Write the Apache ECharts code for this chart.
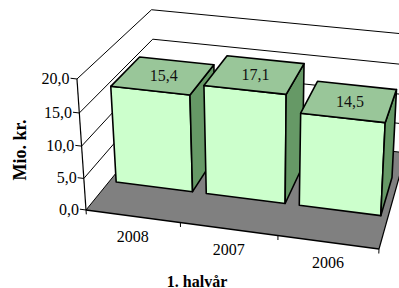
<!DOCTYPE html>
<html><head><meta charset="utf-8">
<script src="https://cdn.jsdelivr.net/npm/echarts@6/dist/echarts.min.js"></script>
<style>html,body{margin:0;padding:0;background:#fff}#c{width:399px;height:288px}</style>
</head><body><div id="c"></div>
<script>
// ---- data ----
const categories = ['2008', '2007', '2006'];
const values = [15.4, 17.1, 14.5];
const valueTicks = [0, 5, 10, 15, 20];
const yTitle = 'Mio. kr.';
const xTitle = '1. halvår';

// ---- 3D camera (projective matrix: u = category span, v = value span, w = depth) ----
const M = [
  [274.05, -12.8, 97.9, 86],
  [26.55, -134.9, -64.1, 210],
  [-0.05, -0.049, 0.178, 1]
];
function P(u, v, w) {
  const d = M[2][0]*u + M[2][1]*v + M[2][2]*w + M[2][3];
  return [(M[0][0]*u + M[0][1]*v + M[0][2]*w + M[0][3]) / d,
          (M[1][0]*u + M[1][1]*v + M[1][2]*w + M[1][3]) / d];
}
const BAR_FRAC = 0.85, W0 = 0.3, W1 = 0.7;
const FAM = 'Liberation Serif';
function txt(text, x, y, align, extra) {
  return Object.assign({ text: text, x: x, y: y, align: align, verticalAlign: 'middle',
    fontFamily: FAM, fontSize: 16, fontWeight: 'normal', fill: '#000' }, extra || {});
}
function fmt(v) { return v.toFixed(1).replace('.', ','); }
function nu(cs, px) { return (px - cs.x) / cs.width; }
function nv(cs, py) { return (cs.y + cs.height - py) / cs.height; }
function line(a, b, lw) {
  return { type: 'line', shape: { x1: a[0], y1: a[1], x2: b[0], y2: b[1] },
           style: { stroke: '#000', lineWidth: lw || 1 } };
}

function renderFrame(params, api) {
  const cs = params.coordSys;
  const ch = [];
  ch.push({ type: 'polygon', shape: { points: [P(0,0,0), P(1,0,0), P(1,0,1), P(0,0,1)] },
            style: { fill: '#808080', stroke: null } });
  valueTicks.forEach(function (t) {
    const v = nv(cs, api.coord([0, t])[1]);
    ch.push({ type: 'polyline', shape: { points: [P(0,v,0), P(0,v,1), P(1,v,1)] },
              style: { stroke: '#000', lineWidth: 1, fill: null } });
    const q = P(-0.022, v, 0);
    ch.push(line(q, P(0, v, 0), 1));
    ch.push({ type: 'text', style: txt(fmt(t), q[0] - 1, q[1], 'right') });
  });
  ch.push(line(P(1,0,0), P(1,0,1), 1.2));
  ch.push(line(P(0,0,0), P(1,0,0), 1.3));
  ch.push(line(P(0,0,0), P(0,1,0), 1.2));
  const bw = api.size([1, 0])[0];
  for (let i = 0; i <= categories.length; i++) {
    const px = api.coord([Math.min(i, categories.length - 1), 0])[0] + (i === categories.length ? bw / 2 : -bw / 2);
    const u = nu(cs, px);
    ch.push(line(P(u, 0, 0), P(u, -0.035, 0), 1));
  }
  categories.forEach(function (c, i) {
    const u = nu(cs, api.coord([i, 0])[0]);
    const q = P(u, 0, 0);
    ch.push({ type: 'text', style: txt(c, q[0], q[1] + 20, 'center') });
  });
  return { type: 'group', children: ch };
}

function renderBar(params, api) {
  const cs = params.coordSys;
  const i = api.value(0), val = api.value(1);
  const top = api.coord([i, val]), base = api.coord([i, 0]);
  const hw = api.size([1, 0])[0] * BAR_FRAC / 2 / cs.width;
  const uc = nu(cs, top[0]);
  const u0 = uc - hw, u1 = uc + hw;
  const v0 = nv(cs, base[1]), v1 = nv(cs, top[1]);
  const st = { stroke: '#000', lineWidth: 1.6, lineJoin: 'round' };
  const lab = P(uc, v1, (W0 + W1) / 2);
  return { type: 'group', children: [
    { type: 'polygon', shape: { points: [P(u0,v0,W0), P(u1,v0,W0), P(u1,v1,W0), P(u0,v1,W0)] },
      style: Object.assign({ fill: '#CCFFCC' }, st) },
    { type: 'polygon', shape: { points: [P(u1,v0,W0), P(u1,v0,W1), P(u1,v1,W1), P(u1,v1,W0)] },
      style: Object.assign({ fill: '#669966' }, st) },
    { type: 'polygon', shape: { points: [P(u0,v1,W0), P(u1,v1,W0), P(u1,v1,W1), P(u0,v1,W1)] },
      style: Object.assign({ fill: '#99C699' }, st) },
    { type: 'text', style: txt(fmt(val), lab[0], lab[1], 'center', { fill: '#111' }) }
  ] };
}

const chart = echarts.init(document.getElementById('c'), null, { renderer: 'svg' });
chart.setOption({
  animation: false,
  backgroundColor: '#fff',
  grid: { left: 0, top: 0, width: 300, height: 300, show: false },
  xAxis: { type: 'category', data: categories, show: false },
  yAxis: { type: 'value', min: 0, max: 20, interval: 5, show: false },
  graphic: [
    { type: 'text', x: 20, y: 150, rotation: Math.PI / 2,
      style: txt(yTitle, 0, 0, 'center', { fontWeight: 'bold', fontSize: 18 }) },
    { type: 'text', x: 197, y: 281,
      style: txt(xTitle, 0, 0, 'center', { fontWeight: 'bold' }) }
  ],
  series: [
    { type: 'custom', name: 'frame', clip: false, z: 1, renderItem: renderFrame, data: [[0, 0]] },
    { type: 'custom', name: 'bars', clip: false, z: 2, renderItem: renderBar,
      data: categories.map(function (c, i) { return [i, values[i]]; }) }
  ]
});
</script></body></html>
